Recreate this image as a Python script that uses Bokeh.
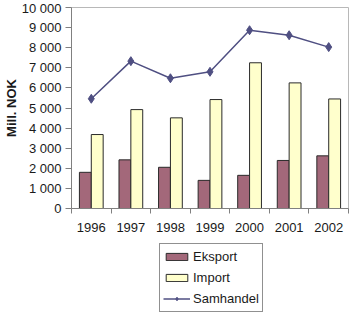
from bokeh.plotting import figure
from bokeh.layouts import column
from bokeh.models import ColumnDataSource, FixedTicker, Legend, LegendItem, Range1d
from bokeh.embed import file_html
from bokeh.resources import INLINE

years = ["1996", "1997", "1998", "1999", "2000", "2001", "2002"]
eksport = [1800, 2420, 2050, 1400, 1650, 2390, 2620]
importv = [3680, 4920, 4510, 5420, 7250, 6250, 5450]
samhandel = [5460, 7330, 6480, 6800, 8870, 8620, 8030]
y_ticks = [0, 1000, 2000, 3000, 4000, 5000, 6000, 7000, 8000, 9000, 10000]
series_names = ["Eksport", "Import", "Samhandel"]

FONT = "Liberation Sans"
C_EKS = "#A3687A"
C_IMP = "#FFFFCC"
C_SAM = "#4F4F82"
C_EDGE = "#2a2a2a"

xc = [i + 0.5 for i in range(len(years))]
src = ColumnDataSource(dict(
    x=xc,
    xe=[x - 0.15 for x in xc],
    xi=[x + 0.15 for x in xc],
    eksport=eksport, importv=importv, samhandel=samhandel,
))

p = figure(width=350, height=240, output_backend="svg", toolbar_location=None,
           x_range=Range1d(0, len(years)), y_range=Range1d(0, 10000),
           min_border_left=71, min_border_top=7, min_border_right=2,
           min_border_bottom=32)
p.background_fill_color = "white"
p.border_fill_color = "white"
p.outline_line_color = "#b8b8b8"
p.xgrid.visible = False
p.ygrid.visible = False

p.vbar(x="xe", top="eksport", width=0.3, source=src,
       fill_color=C_EKS, line_color=C_EDGE, line_width=1)
p.vbar(x="xi", top="importv", width=0.3, source=src,
       fill_color=C_IMP, line_color=C_EDGE, line_width=1)
p.line(x="x", y="samhandel", source=src, line_color=C_SAM, line_width=1.5)
p.scatter(x="x", y="samhandel", source=src, marker="diamond", size=9,
          fill_color=C_SAM, line_color=C_SAM)

# x axis
xa = p.xaxis[0]
xa.ticker = FixedTicker(ticks=xc, minor_ticks=list(range(len(years) + 1)))
xa.major_label_overrides = {x: y for x, y in zip(xc, years)}
xa.major_tick_line_color = None
xa.major_tick_out = 5
xa.major_tick_in = 0
xa.minor_tick_line_color = "#808080"
xa.minor_tick_out = 5
xa.minor_tick_in = 0
xa.axis_line_color = "#808080"
xa.major_label_text_font = FONT
xa.major_label_text_font_size = "13px"
xa.major_label_text_color = "#1a1a1a"
xa.major_label_standoff = 9

# y axis
ya = p.yaxis[0]
ya.ticker = FixedTicker(ticks=y_ticks, minor_ticks=[])
ya.major_label_overrides = {t: f"{t:,}".replace(",", " ") for t in y_ticks}
ya.major_tick_line_color = "#808080"
ya.major_tick_out = 6
ya.major_tick_in = 0
ya.minor_tick_line_color = None
ya.axis_line_color = "#808080"
ya.major_label_text_font = FONT
ya.major_label_text_font_size = "13px"
ya.major_label_text_color = "#1a1a1a"
ya.major_label_standoff = 4
ya.axis_label = "Mill. NOK"
ya.axis_label_text_font = FONT
ya.axis_label_text_font_size = "13px"
ya.axis_label_text_font_style = "bold"
ya.axis_label_text_color = "#1a1a1a"
ya.axis_label_standoff = 0

# legend panel (its frame is aligned with the chart frame by the column)
q = figure(width=350, height=89, output_backend="svg", toolbar_location=None,
           x_range=Range1d(0, 1), y_range=Range1d(0, 1),
           min_border_left=71, min_border_right=2, min_border_top=0,
           min_border_bottom=0)
q.axis.visible = False
q.grid.visible = False
q.outline_line_color = None
q.background_fill_color = "white"
q.border_fill_color = "white"

dummy = ColumnDataSource(dict(x=[-10], y=[-10]))
l_e = q.vbar(x="x", top="y", width=0.3, source=dummy,
             fill_color=C_EKS, line_color=C_EDGE, line_width=1)
l_i = q.vbar(x="x", top="y", width=0.3, source=dummy,
             fill_color=C_IMP, line_color=C_EDGE, line_width=1)
l_l = q.line(x="x", y="y", source=dummy, line_color=C_SAM, line_width=1.5)
l_m = q.scatter(x="x", y="y", source=dummy, marker="diamond", size=8,
                fill_color=C_SAM, line_color=C_SAM)

legend = Legend(items=[
    LegendItem(label=series_names[0], renderers=[l_e]),
    LegendItem(label=series_names[1], renderers=[l_i]),
    LegendItem(label=series_names[2], renderers=[l_l, l_m]),
], location=(88, 17), orientation="vertical")
legend.border_line_color = "#909090"
legend.border_line_alpha = 1.0
legend.border_line_width = 1
legend.background_fill_color = "white"
legend.background_fill_alpha = 1.0
legend.padding = 3
legend.spacing = 2
legend.margin = 0
legend.glyph_width = 27
legend.glyph_height = 9
legend.label_height = 19
legend.label_standoff = 3
legend.label_text_font = FONT
legend.label_text_font_size = "13px"
legend.label_text_color = "#1a1a1a"
q.add_layout(legend, "center")

layout = column(p, q, spacing=0)
open("out.html", "w").write(file_html(layout, INLINE))
